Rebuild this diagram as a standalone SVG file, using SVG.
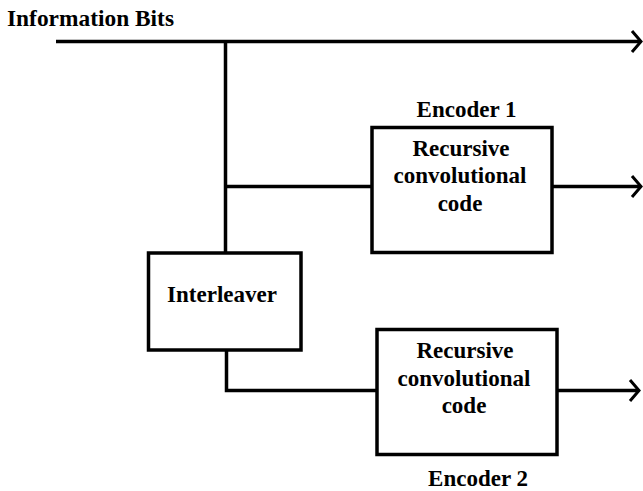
<svg xmlns="http://www.w3.org/2000/svg" width="643" height="491" viewBox="0 0 643 491">
<style>
.t{font-weight:700;font-size:23px;fill:#000}
.c{text-anchor:middle}
.box{fill:#fff;stroke:#000;stroke-width:3.5}
.ln{fill:none;stroke:#000;stroke-width:3.5}
.ah{fill:none;stroke:#000;stroke-width:3}
</style>
<rect width="643" height="491" fill="#fff"/>
<g id="connectors">
<path class="ln" d="M56,41.5 H640"/>
<path class="ah" d="M632,31 L641,41.5 L632,52"/>
<path class="ln" d="M225.5,41.5 V253"/>
<path class="ln" d="M225.5,186.5 H372"/>
<path class="ln" d="M552,186.5 H640"/>
<path class="ah" d="M632,176 L641,186.5 L632,197"/>
<path class="ln" d="M226.5,350 V390.5 H377"/>
<path class="ln" d="M557,390.5 H638"/>
<path class="ah" d="M630,380 L639,390.5 L630,401"/>
</g>
<g font-family="Liberation Serif, Times New Roman, Tinos, DejaVu Serif, serif">
<text class="t" x="7" y="26" textLength="167" lengthAdjust="spacingAndGlyphs">Information Bits</text>
<g id="encoder1">
<rect class="box" x="372" y="127.5" width="180" height="125"/>
<text class="t c" x="461" y="156">Recursive</text>
<text class="t c" x="460" y="183">convolutional</text>
<text class="t c" x="460" y="210.5">code</text>
<text class="t c" x="466.5" y="116.5">Encoder 1</text>
</g>
<g id="interleaver">
<rect class="box" x="148.5" y="253" width="152.5" height="97"/>
<text class="t c" x="222" y="301.5">Interleaver</text>
</g>
<g id="encoder2">
<rect class="box" x="377" y="329.5" width="180" height="125"/>
<text class="t c" x="465" y="358">Recursive</text>
<text class="t c" x="464" y="386">convolutional</text>
<text class="t c" x="464" y="413">code</text>
<text class="t c" x="478" y="486">Encoder 2</text>
</g>
</g>
</svg>
